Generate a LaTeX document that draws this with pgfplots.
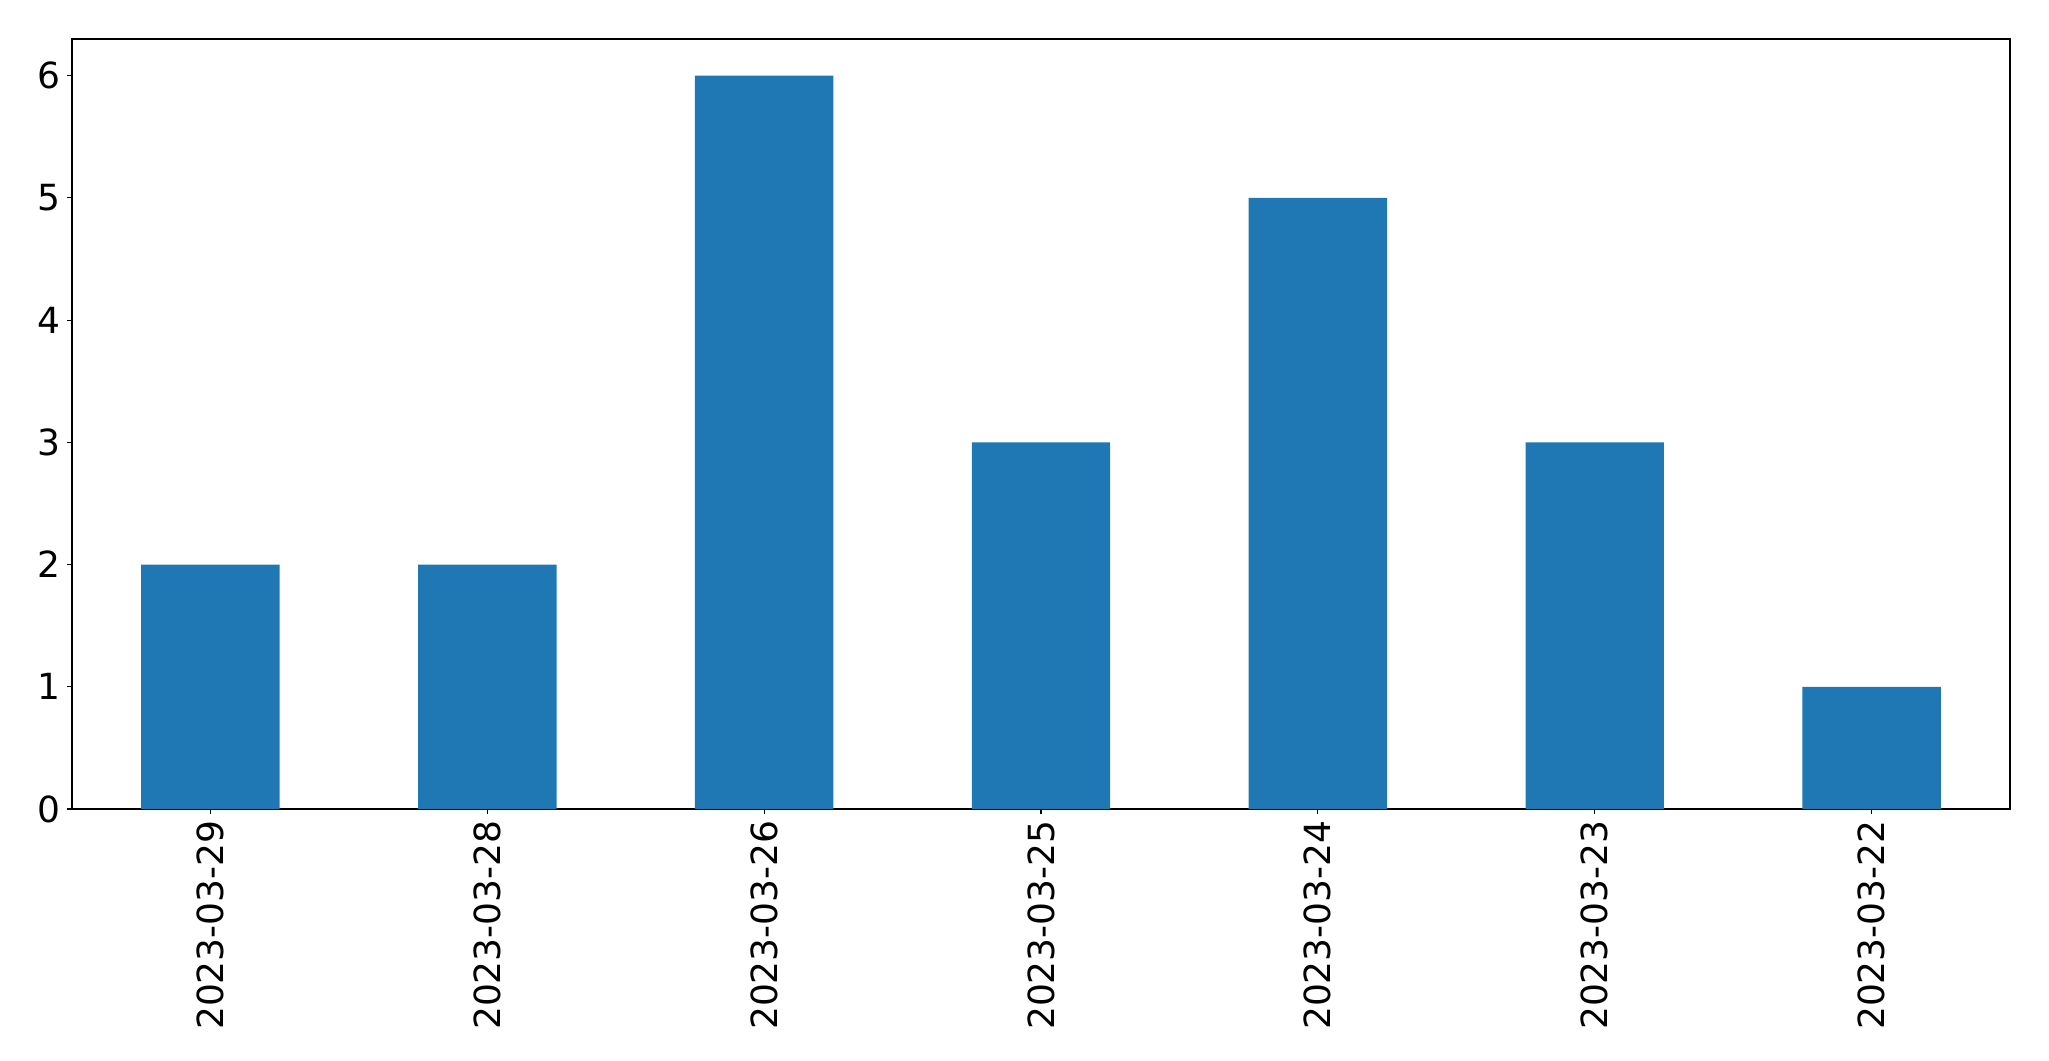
\documentclass[border=0pt]{standalone}
\usepackage{fontspec}
\setmainfont{DejaVu Sans}
\usepackage{pgfplots}
\pgfplotsset{compat=1.18}
\definecolor{mplblue}{HTML}{1F77B4}

\begin{document}
\begin{tikzpicture}
\begin{axis}[
	scale only axis,
	width=969pt, height=385pt,
	ybar, bar width=0.5,
	xmin=-0.5, xmax=6.5,
	ymin=0, ymax=6.3,
	xtick={0,1,2,3,4,5,6},
	xticklabels={2023-03-29,2023-03-28,2023-03-26,2023-03-25,2023-03-24,2023-03-23,2023-03-22},
	ytick={0,1,2,3,4,5,6},
	xticklabel style={rotate=90, anchor=east},
	tick label style={font=\fontsize{18}{20}\selectfont},
	/pgf/number format/assume math mode=true,
	tick align=outside, xtick pos=bottom, ytick pos=left,
	major tick length=2.3pt,
	tick style={black, line width=0.6pt},
	axis line style={line width=0.65pt},
	enlargelimits=false,
	clip=false,
]
\addplot[fill=mplblue, draw=none] coordinates {
	(0,2) (1,2) (2,6) (3,3) (4,5) (5,3) (6,1)
};
\end{axis}
% page margins round the axis, as in the reference
\path (current axis.south west) ++(-36pt,-126pt) rectangle ([shift={(19.5pt,19.5pt)}]current axis.north east);
\end{tikzpicture}
\end{document}
